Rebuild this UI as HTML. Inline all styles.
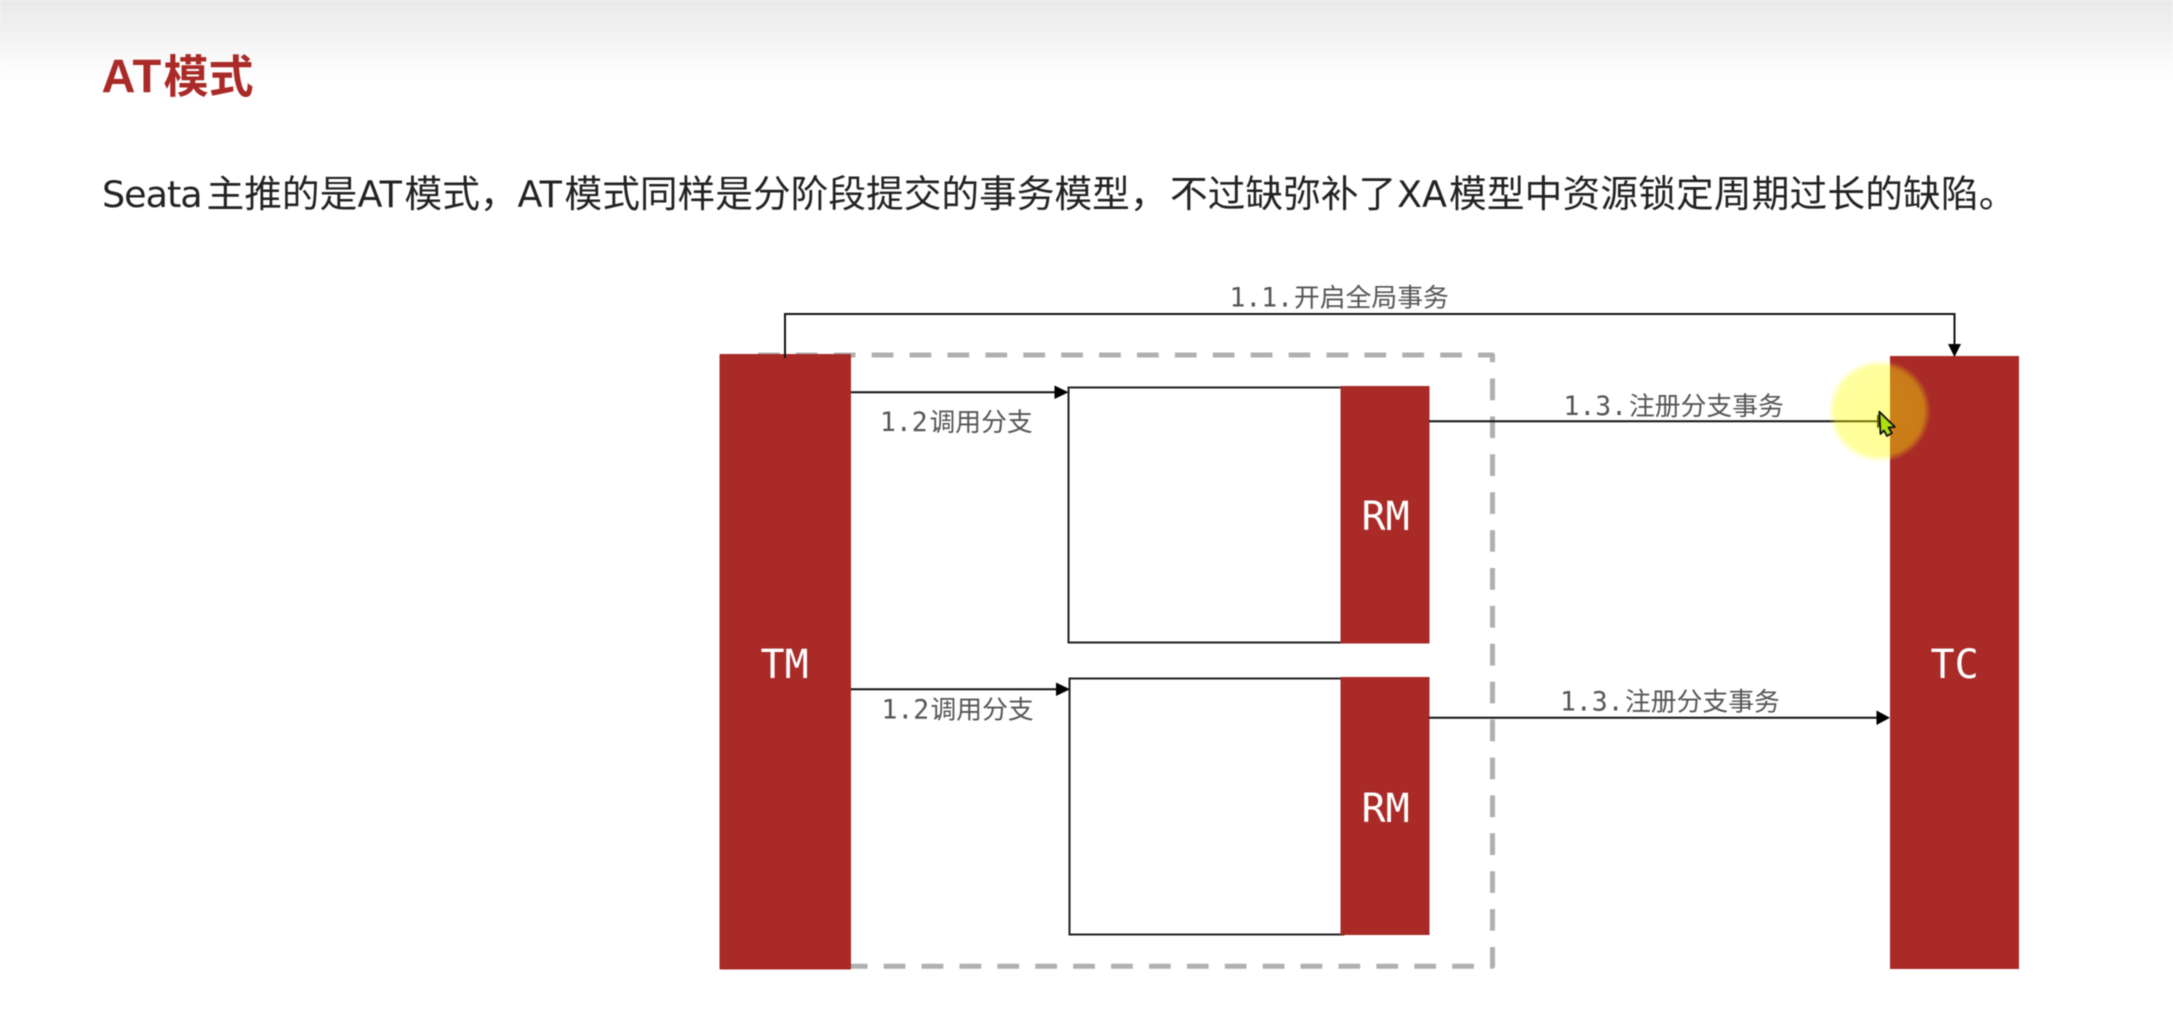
<!DOCTYPE html>
<html lang="zh">
<head>
<meta charset="utf-8">
<title>AT模式</title>
<style>
html,body{margin:0;padding:0;background:#fff;width:2173px;height:1027px;overflow:hidden}
svg{display:block;filter:blur(0.5px)}
.h{font-family:"Liberation Sans","Noto Sans CJK SC",sans-serif;font-weight:700;font-size:45px;fill:#a92a27}
.p{font-family:"Noto Sans CJK SC",sans-serif;font-size:37.7px;fill:#222}
.d{font-family:"DejaVu Sans",sans-serif;font-size:36.5px}
.l{font-family:"DejaVu Sans Mono","Noto Sans CJK SC",monospace;font-size:26.4px;fill:#555}
.c{font-family:"Noto Sans CJK SC",sans-serif;font-size:25.8px}
.n{font-family:"DejaVu Sans Mono",monospace;font-size:40px;fill:#fff}
</style>
</head>
<body>
<svg width="2173" height="1027" viewBox="0 0 2173 1027" xmlns="http://www.w3.org/2000/svg">
<defs>
<linearGradient id="g" x1="0" y1="0" x2="0" y2="1">
<stop offset="0" stop-color="#e9e9e9"/>
<stop offset="1" stop-color="#ffffff"/>
</linearGradient>
<radialGradient id="glow">
<stop offset="0" stop-color="#ffff00" stop-opacity="0.42"/>
<stop offset="0.86" stop-color="#ffff00" stop-opacity="0.38"/>
<stop offset="1" stop-color="#ffff00" stop-opacity="0"/>
</radialGradient>
</defs>
<rect width="2173" height="1027" fill="#fff"/>
<rect width="2173" height="80" fill="url(#g)"/>

<text class="h" y="92.5"><tspan x="101.5" font-size="47">A</tspan><tspan x="132.5" font-size="47">T</tspan><tspan x="163.5">模式</tspan></text>

<text class="p" y="207"><tspan class="d" x="102" letter-spacing="-1">Seata</tspan><tspan x="206.5">主推的是</tspan><tspan class="d" x="357.5">AT</tspan><tspan x="404.5">模式，</tspan><tspan class="d" x="517.5">AT</tspan><tspan x="564.5">模式同样是分阶段提交的事务模型，</tspan><tspan x="1170">不过缺弥补了</tspan><tspan class="d" x="1397">XA</tspan><tspan x="1449" letter-spacing="0.15">模型中资源锁定周期过长的缺陷。</tspan></text>

<!-- dashed boundary -->
<path d="M758,355 H1492.5 V966.3 H851" fill="none" stroke="#b0b0b0" stroke-width="5" stroke-dasharray="21.7 16.2" stroke-linejoin="round"/>

<!-- boxes -->
<rect x="1068.5" y="387.5" width="275" height="255" fill="#fff" stroke="#222" stroke-width="2"/>
<rect x="1069.5" y="678.5" width="274" height="256" fill="#fff" stroke="#222" stroke-width="2"/>

<!-- red blocks -->
<rect x="719.5" y="354" width="131.5" height="615.5" fill="#a92a27" rx="1"/>
<rect x="1890" y="356" width="129" height="613" fill="#a92a27"/>
<rect x="1340.5" y="386" width="89" height="257.5" fill="#a92a27"/>
<rect x="1340.5" y="677" width="89" height="258" fill="#a92a27"/>

<text class="n" x="760.5" y="678">TM</text>
<text class="n" x="1930.5" y="678">TC</text>
<text class="n" x="1361.5" y="530">RM</text>
<text class="n" x="1361.5" y="822">RM</text>

<!-- connectors -->
<path d="M785,358 V314 H1954.5 V346" fill="none" stroke="#111" stroke-width="2"/>
<polygon points="1948,344 1961,344 1954.5,357" fill="#000"/>

<path d="M851,392.3 H1056" fill="none" stroke="#111" stroke-width="2"/>
<polygon points="1054.5,385.5 1068.5,392.3 1054.5,399" fill="#000"/>

<path d="M851,689.3 H1058" fill="none" stroke="#111" stroke-width="2"/>
<polygon points="1056,682.5 1070,689.3 1056,696" fill="#000"/>

<path d="M1429,421.3 H1880" fill="none" stroke="#111" stroke-width="2"/>
<polygon points="1877,414.5 1890,421.3 1877,428" fill="#000"/>

<path d="M1429,717.7 H1880" fill="none" stroke="#111" stroke-width="2"/>
<polygon points="1876.5,710.5 1890,717.7 1876.5,725" fill="#000"/>

<!-- labels -->
<text class="l" y="306.5"><tspan x="1229.5">1.1.</tspan><tspan class="c" x="1294">开启全局事务</tspan></text>
<text class="l" y="431"><tspan x="880">1.2</tspan><tspan class="c" x="929.5">调用分支</tspan></text>
<text class="l" y="718.5"><tspan x="881.5">1.2</tspan><tspan class="c" x="930.5">调用分支</tspan></text>
<text class="l" y="415"><tspan x="1563.5">1.3.</tspan><tspan class="c" x="1629">注册分支事务</tspan></text>
<text class="l" y="710.5"><tspan x="1560">1.3.</tspan><tspan class="c" x="1625">注册分支事务</tspan></text>

<!-- cursor highlight -->
<circle cx="1879.5" cy="411" r="51.5" fill="url(#glow)"/>
<path d="M1879.3,411.7 L1895,427 L1888.5,427.5 L1892,433 L1887,436 L1884,430.5 L1880.5,434 Z" fill="#aee010" stroke="#111" stroke-width="1.8" stroke-linejoin="round"/>
</svg>
</body>
</html>
